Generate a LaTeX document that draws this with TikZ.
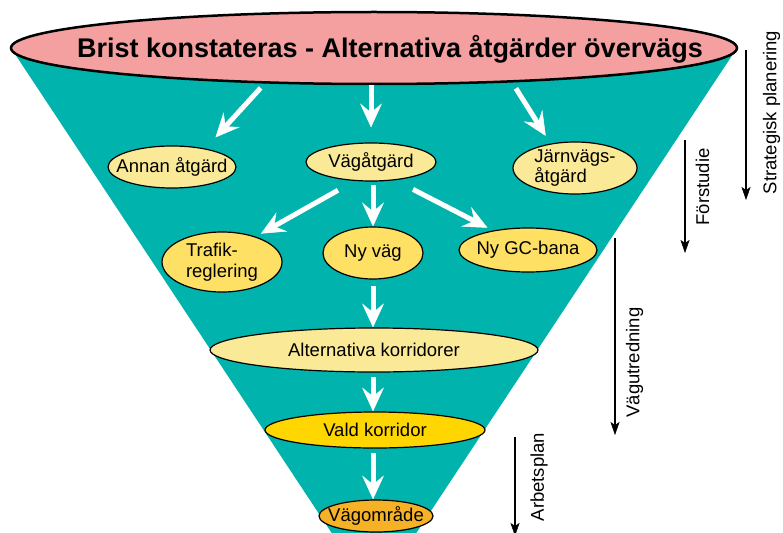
\documentclass[tikz,border=0pt]{standalone}
\usepackage{fontspec}
\setmainfont{Liberation Sans}
\usetikzlibrary{shapes.geometric,arrows.meta}
\definecolor{conecol}{RGB}{0,179,172}
\definecolor{topcol}{RGB}{244,160,160}
\definecolor{lightyel}{RGB}{250,233,150}
\definecolor{midyel}{RGB}{253,224,100}
\definecolor{goldyel}{RGB}{255,214,0}
\definecolor{orangeyel}{RGB}{245,178,38}
\begin{document}
\begin{tikzpicture}[x=1pt,y=-1pt,
  nd/.style={ellipse, draw=black, line width=1.2pt, inner xsep=-12pt, inner ysep=-2pt,
    font=\fontsize{18.5}{20.5}\selectfont},
  warrow/.style={draw=white, line width=5pt, -{Stealth[length=24pt,width=22pt,inset=9pt,line width=0.5pt]}},
  barrow/.style={draw=black, line width=1.5pt, -{Stealth[length=13pt,width=9pt,inset=3pt,line width=0.5pt]}},
  side/.style={rotate=90, font=\fontsize{18.5}{21}\selectfont}]
\useasboundingbox (0,0) rectangle (783,532);
\clip (0,0) rectangle (783,532);
% cone
\fill[conecol] (11,48) -- (737,48) -- (374,597) -- cycle;
% top ellipse
\node[ellipse, draw=black, line width=2.5pt, fill=topcol, minimum width=726pt, minimum height=72pt, inner sep=0pt] (top) at (374,48) {};
\node[font=\fontsize{27}{30}\selectfont\bfseries, inner sep=0pt] (title) at (390,49) {Brist konstateras - Alternativa åtgärder övervägs};
% nodes
\node[nd, fill=lightyel, minimum width=128pt, minimum height=42pt] (annan) at (172,167) {Annan åtgärd};
\node[nd, fill=lightyel, minimum width=130pt, minimum height=38pt] (vag) at (371,162) {Vägåtgärd};
\node[nd, fill=lightyel, minimum width=124pt, minimum height=52pt, align=left] (jarn) at (575,168) {Järnvägs-\\åtgärd};
\node[nd, fill=midyel, minimum width=120pt, minimum height=60pt, align=left] (traf) at (222,262) {Trafik-\\reglering};
\node[nd, fill=midyel, minimum width=100pt, minimum height=52pt] (nyvag) at (373,253) {Ny väg};
\node[nd, fill=midyel, minimum width=138pt, minimum height=44pt] (gc) at (528,250) {Ny GC-bana};
\node[nd, fill=lightyel, minimum width=328pt, minimum height=44pt] (alt) at (374,350) {Alternativa korridorer};
\node[nd, fill=goldyel, minimum width=220pt, minimum height=36pt] (vald) at (375,430) {Vald korridor};
\node[nd, fill=orangeyel, minimum width=114pt, minimum height=32pt] (vomr) at (376,516) {Vägområde};
% white arrows
\draw[warrow, shorten <=6pt, shorten >=15pt] (top.198) -- (annan.29);
\draw[warrow, shorten <=0pt, shorten >=15pt] (vag.north |- top.south) -- (vag.north);
\draw[warrow, shorten <=7pt, shorten >=9pt] (top.346) -- (jarn.135);
\draw[warrow, shorten <=19pt, shorten >=6pt] (vag.229) -- (traf.37);
\draw[warrow, shorten <=3pt] (nyvag.north |- vag.south) -- (nyvag.north);
\draw[warrow, shorten <=20pt, shorten >=6pt] (vag.323) -- (gc.151);
\draw[warrow, shorten <=6pt] (nyvag.south) -- (nyvag.south |- alt.north);
\draw[warrow, shorten <=4pt] (nyvag.south |- alt.south) -- (nyvag.south |- vald.north);
\draw[warrow, shorten <=4pt] (nyvag.south |- vald.south) -- (nyvag.south |- vomr.north);
% phase arrows
\coordinate (p1a) at (746,50);  \coordinate (p1b) at (746,200);
\coordinate (p2a) at (685,140); \coordinate (p2b) at (685,253);
\coordinate (p3a) at (615,238); \coordinate (p3b) at (615,435);
\coordinate (p4a) at (515,437); \coordinate (p4b) at (515,536);
\draw[barrow] (p1a) -- (p1b);
\draw[barrow] (p2a) -- (p2b);
\draw[barrow] (p3a) -- (p3b);
\draw[barrow] (p4a) -- (p4b);
\node[side] (l1) at (771.5,112.5) {Strategisk planering};
\node[side] (l2) at (702.5,187) {Förstudie};
\node[side] (l3) at (634.5,362.5) {Vägutredning};
\node[side] (l4) at (539,477) {Arbetsplan};
\end{tikzpicture}
\end{document}
